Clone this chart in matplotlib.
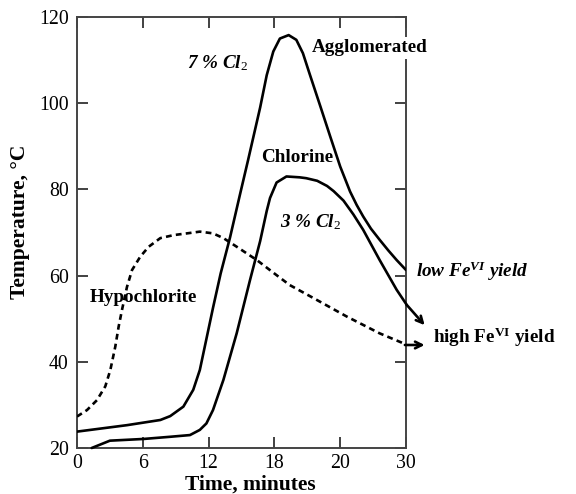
import matplotlib
matplotlib.use("Agg")
import matplotlib.pyplot as plt

# ---- data ----
xtick_pos = [0, 6, 12, 18, 24, 30]
xtick_labels = ["0", "6", "12", "18", "20", "30"]
ytick_vals = [20, 40, 60, 80, 100, 120]

agg_t = [0, 4.56, 7.6, 8.5, 9.7, 10.6, 11.2, 11.8, 12.4, 13.1, 13.95, 14.86,
         15.6, 16.7, 17.3, 17.9, 18.5, 19.3, 20.0, 20.6, 21.2, 22.2, 23.1,
         24.0, 24.9, 25.5, 26.1, 26.8, 27.6, 28.4, 29.15, 30.0]
agg_T = [23.8, 25.3, 26.5, 27.4, 29.6, 33.5, 38.1, 45.3, 52.5, 60.5, 68.8, 78.8,
         86.8, 99.0, 106.5, 112.0, 115.0, 115.8, 114.7, 111.6, 106.9, 99.2, 92.2,
         85.3, 79.5, 76.4, 73.7, 70.9, 68.3, 65.8, 63.6, 61.3]

chl_t = [1.34, 3.0, 6.08, 8.48, 10.3, 11.2, 11.8, 12.4, 13.35, 14.56, 15.78,
         16.7, 17.3, 17.6, 18.2, 19.1, 20.3, 20.9, 21.9, 22.8, 23.4, 24.3,
         25.2, 26.1, 27.6, 29.15, 30.07]
chl_T = [20.0, 21.7, 22.1, 22.6, 23.0, 24.2, 25.7, 28.8, 35.8, 46.6, 59.0,
         68.0, 75.0, 78.0, 81.6, 83.0, 82.8, 82.6, 82.0, 80.8, 79.6, 77.4,
         74.2, 70.6, 63.6, 56.7, 53.2]
chl_arrow_tip = (31.7, 48.5)

hyp_t = [0, 0.91, 1.82, 2.58, 3.04, 3.49, 3.80, 4.10, 4.56, 5.02, 5.77, 6.54,
         7.60, 8.82, 10.03, 11.2, 12.4, 13.35, 14.56, 16.4, 18.2, 19.4, 21.55,
         24.6, 27.6, 29.75]
hyp_T = [27.3, 28.8, 31.1, 34.3, 38.1, 43.5, 48.2, 52.0, 57.4, 61.3, 64.4, 66.7,
         68.7, 69.4, 69.8, 70.2, 69.8, 68.7, 66.7, 63.6, 60.1, 57.8, 54.8,
         50.5, 46.6, 44.3]
hyp_arrow = ((29.9, 43.9), (31.7, 43.9))

# ---- style ----
plt.rcParams['font.family'] = ['Liberation Serif', 'DejaVu Serif']
plt.rcParams['mathtext.fontset'] = 'custom'
plt.rcParams['mathtext.rm'] = 'Liberation Serif'
plt.rcParams['mathtext.it'] = 'Liberation Serif:italic:bold'
plt.rcParams['mathtext.bf'] = 'Liberation Serif:bold'

fig = plt.figure(figsize=(5.76, 4.94), dpi=100)
ax = fig.add_axes([77/576, 1-448/494, (406-77)/576, (448-17)/494])

fs = 13.8
line_kw = dict(color='black', lw=1.9, solid_joinstyle='round',
               solid_capstyle='round', zorder=3)
ax.plot(agg_t, agg_T, **line_kw)
ax.plot(chl_t, chl_T, clip_on=False, **line_kw)
ax.plot(hyp_t, hyp_T, color='black', lw=1.9, linestyle=(0, (2.2, 1.6)),
        dash_joinstyle='round', zorder=3)

ax.annotate("", xy=chl_arrow_tip, xytext=(chl_t[-1], chl_T[-1]),
            arrowprops=dict(arrowstyle='->', lw=1.9, color='black',
                            shrinkA=0, shrinkB=0, mutation_scale=12),
            annotation_clip=False)
ax.annotate("", xy=hyp_arrow[1], xytext=hyp_arrow[0],
            arrowprops=dict(arrowstyle='->', lw=1.9, color='black',
                            shrinkA=0, shrinkB=0, mutation_scale=12),
            annotation_clip=False)

ax.set_xlim(0, 30)
ax.set_ylim(20, 120)
ax.set_xticks(xtick_pos)
ax.set_xticklabels(xtick_labels)
ax.set_yticks(ytick_vals)
ax.tick_params(direction='in', length=8, width=1.3, top=True, right=True,
               labelsize=14.3, pad=6, colors='#333333', labelcolor='black')
ax.tick_params(axis='x', pad=4)
for s in ax.spines.values():
    s.set_linewidth(1.4)
    s.set_color('#444444')

ax.set_xlabel("Time, minutes", fontsize=15.5, fontweight='bold', va='center')
ax.xaxis.set_label_coords((250-77)/329, (448-485)/431)
ax.set_ylabel("Temperature, \u00b0C", fontsize=15.5, fontweight='bold', va='center')
ax.yaxis.set_label_coords((20-77)/329, (448-222)/431)

def px(x, y):
    # pixel position -> figure fraction
    return (x/576, 1 - y/494)

fig.text(*px(187, 63), r"7 % Cl$_{\mathit{2}}$", fontsize=fs, fontweight='bold',
         style='italic', va='center', ha='left')
fig.text(*px(312, 48), "Agglomerated", fontsize=fs, fontweight='bold',
         va='center', ha='left', zorder=5,
         bbox=dict(facecolor='white', edgecolor='none', pad=1.5))
fig.text(*px(261, 158), "Chlorine", fontsize=fs, fontweight='bold',
         va='center', ha='left')
fig.text(*px(280, 222), r"3 % Cl$_{\mathit{2}}$", fontsize=fs, fontweight='bold',
         style='italic', va='center', ha='left')
fig.text(*px(90, 297), "Hypochlorite", fontsize=fs, fontweight='bold',
         va='center', ha='left')
fig.text(*px(416, 271), r"low Fe$^{\mathit{VI}}$ yield", fontsize=fs,
         fontweight='bold', style='italic', va='center', ha='left')
fig.text(*px(433, 337), r"high Fe$^{\mathbf{VI}}$ yield", fontsize=fs,
         fontweight='bold', va='center', ha='left')

fig.savefig("out.png", dpi=100)
